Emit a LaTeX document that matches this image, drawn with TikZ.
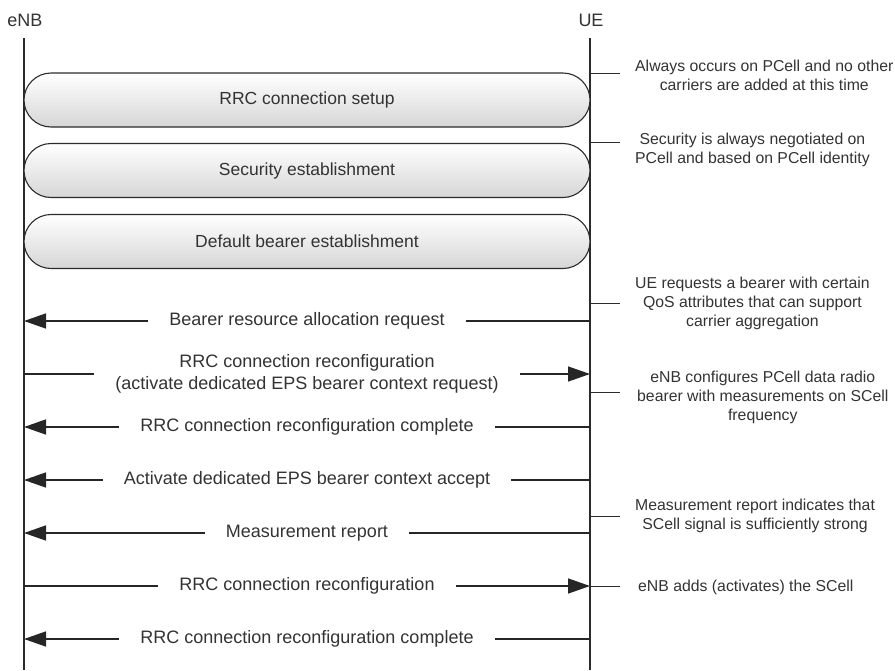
\documentclass[tikz,border=0pt]{standalone}
\usepackage{fontspec}
\setmainfont{Liberation Sans}
\usetikzlibrary{arrows.meta}
\definecolor{ink}{HTML}{333333}
\definecolor{linegray}{HTML}{2B2B2B}
\begin{document}
\begin{tikzpicture}[x=1pt,y=-1pt,
  lifeline/.style={draw=linegray, line width=1.3pt},
  capsule/.style={draw=linegray, line width=1.1pt, rounded corners=27pt,
    minimum width=566pt, minimum height=54pt, inner sep=0pt,
    top color=white, bottom color=black!16, text=ink,
    font=\fontsize{17.5}{20}\selectfont},
  msg/.style={draw=black!85, line width=1.5pt, -{Triangle[length=22pt,width=15pt]}},
  lbl/.style={fill=white, text=ink, font=\fontsize{18}{22}\selectfont,
    inner xsep=21pt, inner ysep=1pt, align=center},
  tickline/.style={draw=linegray, line width=0.9pt},
  note/.style={anchor=west, text=ink, font=\fontsize{15.8}{19}\selectfont,
    align=center, inner sep=0pt},
  actor/.style={text=ink, font=\fontsize{18}{22}\selectfont, inner sep=0pt}]

\useasboundingbox (0,0) rectangle (895,670);

% actors and lifelines
\node[actor] (enb) at (25,20) {eNB};
\node[actor] (ue)  at (591,20) {UE};
\coordinate (enbTop) at (24,38);  \coordinate (enbEnd) at (24,670);
\coordinate (ueTop)  at (590,38); \coordinate (ueEnd)  at (590,670);
\draw[lifeline] (enbTop) -- (enbEnd);
\draw[lifeline] (ueTop) -- (ueEnd);

% procedures spanning both entities
\node[capsule] (setup) at (307,100)   {RRC connection setup};
\node[capsule] (sec)   at (307,170.5) {Security establishment};
\node[capsule] (dflt)  at (307,241.5) {Default bearer establishment};

% message anchor points on each lifeline
\foreach \i/\y in {1/321,2/374,3/427,4/480,5/533,6/586,7/639}{
  \coordinate (e\i) at (24,\y);
  \coordinate (u\i) at (590,\y);
}

% messages
\draw[msg] (u1) -- node[lbl] {Bearer resource allocation request} (e1);
\draw[msg] (e2) -- node[lbl] {RRC connection reconfiguration\\(activate dedicated EPS bearer context request)} (u2);
\draw[msg] (u3) -- node[lbl] {RRC connection reconfiguration complete} (e3);
\draw[msg] (u4) -- node[lbl] {Activate dedicated EPS bearer context accept} (e4);
\draw[msg] (u5) -- node[lbl] {Measurement report} (e5);
\draw[msg] (e6) -- node[lbl] {RRC connection reconfiguration} (u6);
\draw[msg] (u7) -- node[lbl] {RRC connection reconfiguration complete} (e7);

% annotation ticks
\foreach \j/\y in {1/73,2/142,3/303,4/392,5/516,6/586}{
  \coordinate (ta\j) at (590,\y);
  \coordinate (tb\j) at (620,\y);
  \draw[tickline] (ta\j) -- (tb\j);
}

% annotations
\node[note] (n1) at (635,75)  {Always occurs on PCell and no other\\carriers are added at this time};
\node[note] (n2) at (635,150) {Security is always negotiated on\\PCell and based on PCell identity};
\node[note] (n3) at (635,303) {UE requests a bearer with certain\\QoS attributes that can support\\carrier aggregation};
\node[note] (n4) at (637,397) {eNB configures PCell data radio\\bearer with measurements on SCell\\frequency};
\node[note] (n5) at (635,516) {Measurement report indicates that\\SCell signal is sufficiently strong};
\node[note] (n6) at (638,587) {eNB adds (activates) the SCell};
\end{tikzpicture}
\end{document}
